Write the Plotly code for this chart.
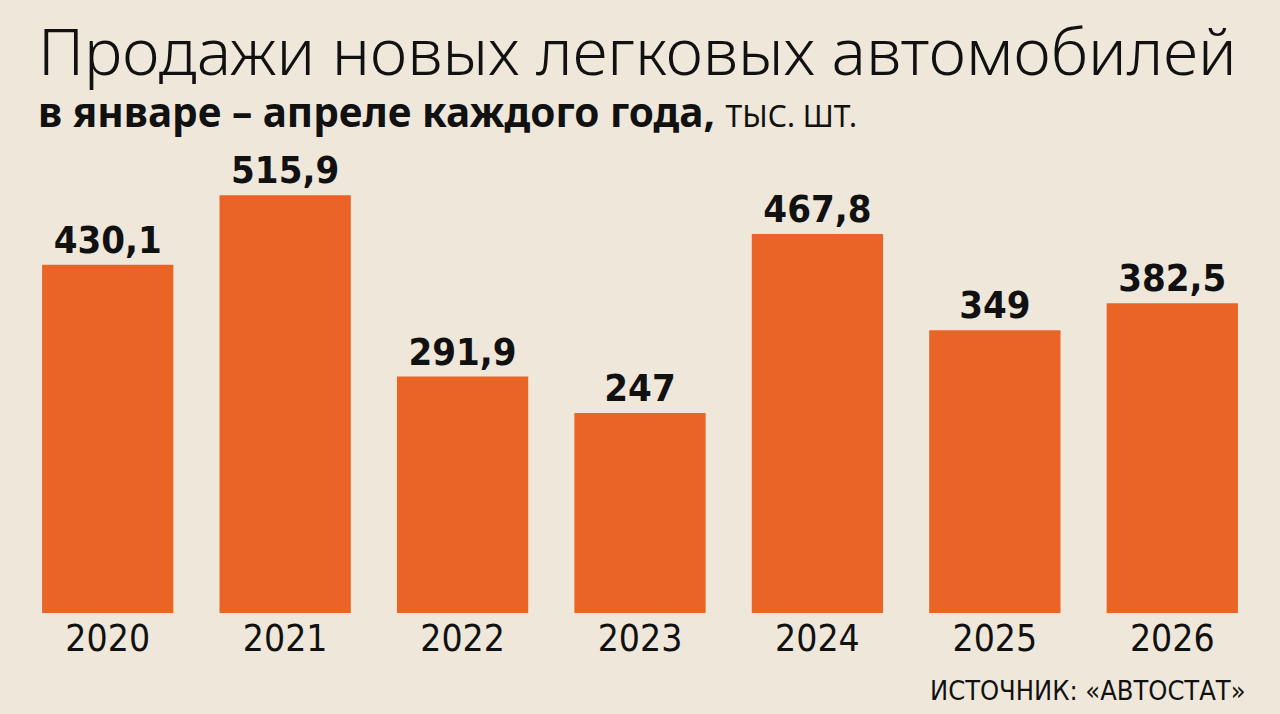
import plotly.graph_objects as go

years = ["2020", "2021", "2022", "2023", "2024", "2025", "2026"]
sales = [430.1, 515.9, 291.9, 247, 467.8, 349, 382.5]
value_labels = ["430,1", "515,9", "291,9", "247", "467,8", "349", "382,5"]

BG = "#efe8da"
ORANGE = "#ea6428"
NARROW = "Liberation Sans Narrow, DejaVu Sans Condensed, sans-serif"

fig = go.Figure()
fig.add_trace(go.Bar(
    x=years, y=sales,
    text=value_labels,
    textposition="outside",
    constraintext="none",
    cliponaxis=False,
    textfont=dict(family=NARROW, size=38, color="#111111", weight="bold"),
    marker=dict(color=ORANGE, line=dict(width=0)),
    hoverinfo="skip",
))

fig.update_layout(
    width=1280, height=714,
    paper_bgcolor=BG, plot_bgcolor=BG,
    margin=dict(l=19, r=19, t=140, b=101, autoexpand=False),
    bargap=0.26,
    showlegend=False,
    xaxis=dict(
        type="category",
        showline=False, showgrid=False, ticks="", automargin=False,
        tickfont=dict(family=NARROW, size=37, color="#111111"),
    ),
    yaxis=dict(range=[0, 584], visible=False),
)

fig.add_annotation(
    xref="paper", yref="paper", x=0.0135, y=1.191, xanchor="left", yanchor="middle",
    text="Продажи новых легковых автомобилей", showarrow=False,
    font=dict(family="Noto Sans", size=64.5, color="#111111", weight=300),
)
fig.add_annotation(
    xref="paper", yref="paper", x=0.0135, y=1.061, xanchor="left", yanchor="middle",
    text="в январе – апреле каждого года, <span style='font-weight:400;font-size:30px'>ТЫС. ШТ.</span>",
    showarrow=False,
    font=dict(family="Noto Sans", size=40.5, color="#111111", weight="bold"),
)
fig.add_annotation(
    xref="paper", yref="paper", x=0.9895, y=-0.163, xanchor="right", yanchor="middle",
    text="ИСТОЧНИК: «АВТОСТАТ»", showarrow=False,
    font=dict(family=NARROW, size=27, color="#111111"),
)

fig.write_html("out.html", config={"displayModeBar": False},
               post_script="document.body.style.margin='0';")
